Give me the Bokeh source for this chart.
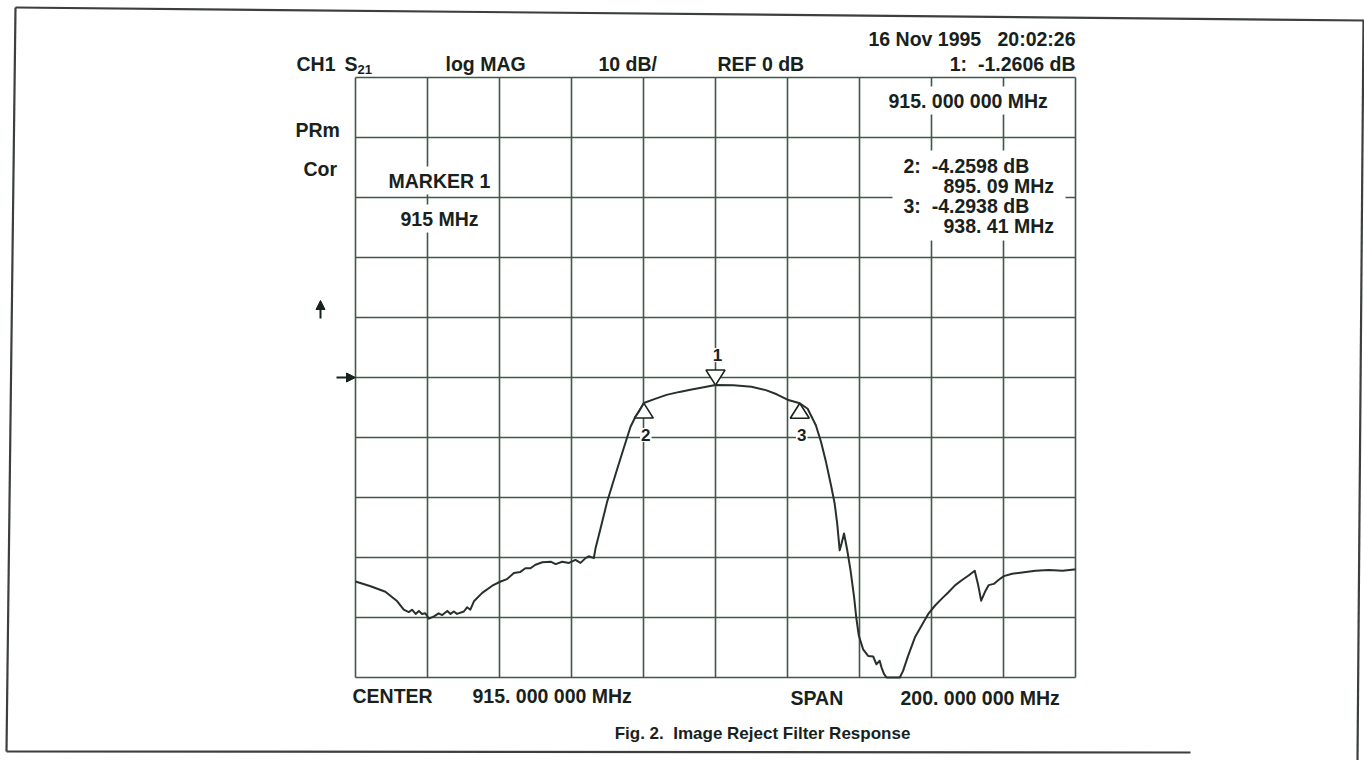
from bokeh.plotting import figure
from bokeh.models import Range1d, Label, Arrow, NormalHead
from bokeh.embed import file_html
from bokeh.resources import INLINE

# ---- network analyzer sweep: S21 of the image reject filter ----
freq_mhz = [
    815.0, 819.2, 823.3, 826.6, 828.4, 829.8, 830.7, 831.7, 832.6, 833.5,
    834.4, 835.4, 836.8, 838.1, 839.1, 840.5, 841.4, 842.3, 843.2, 845.1,
    846.0, 846.9, 847.9, 850.2, 853.0, 855.3, 857.1, 859.0, 860.8, 862.2,
    863.6, 865.0, 866.9, 869.2, 870.6, 872.4, 874.3, 876.1, 877.5, 878.9,
    879.8, 881.2, 881.7, 883.1, 884.9, 887.2, 889.5, 891.4, 892.8, 893.7,
    895.09, 898.0, 901.4, 905.0, 908.0, 911.0, 915.0, 920.0, 925.0, 929.0,
    932.0, 935.0, 938.41, 940.6, 942.9, 944.3, 945.7, 947.1, 948.1, 948.8,
    949.5, 950.0, 950.7, 951.6, 952.5, 953.5, 954.1, 954.8, 956.0, 957.4,
    958.8, 959.7, 960.6, 961.1, 961.8, 962.5, 966.2, 967.1, 968.5, 970.4,
    972.3, 974.1, 976.0, 977.8, 979.7, 981.6, 983.4, 985.3, 987.0, 987.9,
    988.8, 989.8, 990.9, 992.3, 993.7, 995.1, 997.4, 1000.2, 1003.9, 1007.6,
    1011.4, 1014.6, 1015.0,
]
s21_db = [
    -34.0, -34.8, -35.7, -37.3, -38.7, -39.1, -38.7, -39.4, -38.9, -39.4,
    -39.3, -40.2, -39.8, -39.3, -39.6, -38.9, -39.4, -39.0, -39.4, -39.0,
    -38.3, -38.7, -37.3, -35.9, -34.7, -34.0, -33.6, -32.6, -32.4, -31.8,
    -31.8, -31.2, -30.8, -30.7, -31.1, -30.7, -30.9, -30.4, -30.9, -30.1,
    -29.8, -30.1, -28.4, -25.1, -20.7, -16.2, -11.8, -8.2, -6.5, -5.7,
    -4.2598, -3.6, -2.9, -2.4, -2.05, -1.7, -1.2606, -1.3, -1.55, -2.1,
    -2.8, -3.7, -4.2938, -5.2, -8.0, -10.7, -14.1, -18.0, -21.0, -24.3,
    -28.8, -27.7, -26.0, -28.8, -32.1, -36.6, -40.0, -43.0, -45.3, -46.4,
    -46.5, -47.8, -47.2, -48.3, -49.4, -50.0, -50.0, -48.9, -46.4, -43.3,
    -41.3, -39.4, -38.0, -36.9, -35.8, -34.6, -33.8, -33.0, -32.2, -34.4,
    -37.2, -35.8, -34.6, -34.4, -33.7, -33.1, -32.7, -32.5, -32.2, -32.1,
    -32.2, -32.0, -32.0,
]

# markers read out by the analyzer
marker_ids = ["1", "2", "3"]
marker_freq = [915.0, 895.09, 938.41]
marker_db = [-1.2606, -4.2598, -4.2938]

# instrument settings
CENTER_MHZ = 915.0
SPAN_MHZ = 200.0
REF_DB = 0.0
SCALE_DB = 10.0
N_DIV = 10
NB = "\u00a0"   # hard space, keeps the analyzer's column gaps
STAMP = f"16 Nov 1995{NB * 3}20:02:26"
CAPTION = f"Fig. 2.{NB * 2}Image Reject Filter Response"

# ---- page geometry (pixels) ----
W, H = 1364, 760
GX0, GX1 = 355, 1075      # graticule left / right
GY0, GY1 = 77, 677        # graticule top / bottom

F_START = CENTER_MHZ - SPAN_MHZ / 2
F_STOP = CENTER_MHZ + SPAN_MHZ / 2
TOP_DB = REF_DB + SCALE_DB * N_DIV / 2
BOT_DB = REF_DB - SCALE_DB * N_DIV / 2
PPM = (GX1 - GX0) / SPAN_MHZ             # px per MHz
PPD = (GY1 - GY0) / (TOP_DB - BOT_DB)    # px per dB


def dx(px):
    return F_START + (px - GX0) / PPM


def dy(py):
    return TOP_DB - (py - GY0) / PPD


INK = "#18221c"
GRID = "#3f5848"
TRACE = "#27302a"
FONT = "Liberation Sans"
TXT = "19.5px"

p = figure(width=W, height=H, output_backend="svg", toolbar_location=None,
           x_range=Range1d(dx(0), dx(W)), y_range=Range1d(dy(H), dy(0)),
           x_axis_location=None, y_axis_location=None, min_border=0)
p.xgrid.visible = False
p.ygrid.visible = False
p.outline_line_color = None
p.background_fill_color = "white"
p.border_fill_color = "white"

# page frame (slightly skewed sheet)
p.segment(x0=[dx(15), dx(15), dx(6), dx(1363)],
          y0=[dy(7), dy(7), dy(751), dy(20)],
          x1=[dx(1364), dx(6), dx(1190), dx(1357)],
          y1=[dy(20), dy(751), dy(752), dy(760)],
          line_color="#3b403d", line_width=2.2)

# graticule: 10 x 10 divisions
step_f = SPAN_MHZ / N_DIV
vlines = [F_START + i * step_f for i in range(N_DIV + 1)]
hlines = [BOT_DB + i * SCALE_DB for i in range(N_DIV + 1)]
p.segment(x0=vlines, y0=[BOT_DB] * len(vlines), x1=vlines, y1=[TOP_DB] * len(vlines),
          line_color=GRID, line_width=1.6)
p.segment(x0=[F_START] * len(hlines), y0=hlines, x1=[F_STOP] * len(hlines), y1=hlines,
          line_color=GRID, line_width=1.6)

# white panel behind the marker readout block
p.quad(left=dx(892), right=dx(1065), top=dy(150), bottom=dy(240),
       fill_color="white", line_color=None)

# marker triangles: active marker points down onto the trace, others point up
TRI_H = 15 / PPD
TRI_HW = 9.5 / PPM
tri_xs, tri_ys = [], []
for mid, f, d in zip(marker_ids, marker_freq, marker_db):
    base = d + TRI_H if mid == "1" else d - TRI_H
    tri_xs.append([f - TRI_HW, f + TRI_HW, f])
    tri_ys.append([base, base, d])
p.patches(tri_xs, tri_ys, fill_color="white", line_color=INK, line_width=1.6)

# the measured trace
p.line(freq_mhz, s21_db, line_color=TRACE, line_width=2.0, line_join="round")


def text(t, px, py, align="left", size=TXT, style="bold", bg=False, **kw):
    lab = Label(x=dx(px), y=dy(py), text=t, text_align=align, text_baseline="middle",
                text_font=FONT, text_font_size=size, text_font_style=style,
                text_color=INK, **kw)
    if bg:
        lab.background_fill_color = "white"
        lab.padding = 3
    p.add_layout(lab)
    return lab


def mhz_text(f, decimals):
    s = f"{f:.{decimals}f}"
    whole, frac = s.split(".")
    groups = " ".join(frac[i:i + 3] for i in range(0, len(frac), 3))
    return f"{whole}. {groups} MHz"


# header line
HDR_Y = 63
text("CH1", 296, HDR_Y)
text("S", 344, HDR_Y)
text("21", 357, HDR_Y + 6, size="13px")
text("log MAG", 445, HDR_Y)
text(f"{SCALE_DB:.0f} dB/", 598, HDR_Y)
text(f"REF {REF_DB:.0f} dB", 717, HDR_Y)
text(STAMP, 1075, 38, align="right")
text(f"{marker_ids[0]}:{NB * 2}{marker_db[0]:.4f} dB", 1075, HDR_Y, align="right")

# left side annotations
text("PRm", 295, 129)
text("Cor", 303, 168)
text("MARKER 1", 385, 180, bg=True)
text(f"{marker_freq[0]:.0f} MHz", 397, 218, bg=True)

# active marker frequency
text(mhz_text(marker_freq[0], 6), 885, 100, bg=True)

# readout for markers 2 and 3
for k, (mid, f, d) in enumerate(zip(marker_ids[1:], marker_freq[1:], marker_db[1:])):
    y = 165 + 40 * k
    text(f"{mid}:{NB * 2}{d:.4f} dB", 903, y)
    text(mhz_text(f, 2), 943, y + 20)

# marker numbers next to the triangles
for mid, f, d in zip(marker_ids, marker_freq, marker_db):
    off = 30 if mid == "1" else -32
    p.add_layout(Label(x=f, y=d, y_offset=off, x_offset=2, text=mid,
                       text_align="center", text_baseline="middle",
                       text_font=FONT, text_font_size="17px",
                       text_font_style="bold", text_color=INK,
                       background_fill_color="white", padding=1))

# reference-position and scale arrows at the left of the graticule
head = dict(size=9, fill_color=INK, line_color=INK)
p.add_layout(Arrow(end=NormalHead(**head), x_start=dx(320), y_start=dy(318),
                   x_end=dx(320), y_end=dy(300), line_color=INK, line_width=2))
p.add_layout(Arrow(end=NormalHead(**head), x_start=dx(336), y_start=REF_DB,
                   x_end=dx(355), y_end=REF_DB, line_color=INK, line_width=2))

# footer
text("CENTER", 352, 695)
text(mhz_text(CENTER_MHZ, 6), 472, 695)
text("SPAN", 790, 697)
text(mhz_text(SPAN_MHZ, 6), 900, 697)
text(CAPTION, 762, 733, align="center", size="17px", style="bold")

open("out.html", "w").write(file_html(p, INLINE))
